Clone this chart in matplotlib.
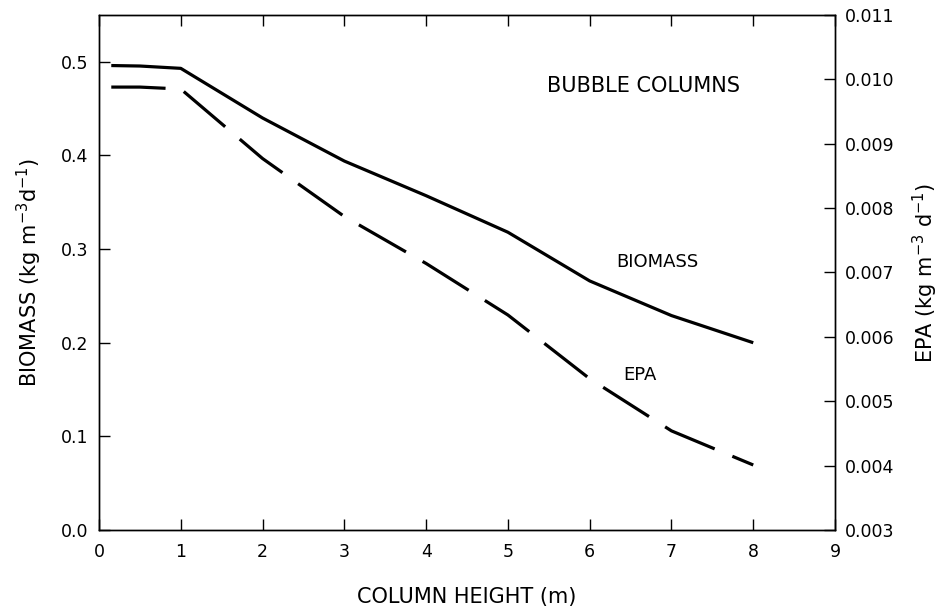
import matplotlib
matplotlib.use('Agg')
import matplotlib.pyplot as plt

plt.rcParams['font.family'] = ['DejaVu Sans']

# column height (m)
height = [0.15, 0.5, 1, 2, 3, 4, 5, 6, 7, 8]
# biomass productivity (kg m-3 d-1), left axis
biomass = [0.496, 0.4955, 0.493, 0.440, 0.394, 0.357, 0.318, 0.266, 0.229, 0.200]
# EPA productivity (kg m-3 d-1), right axis
epa = [0.00988, 0.00988, 0.00985, 0.00877, 0.00787, 0.00714, 0.00634, 0.00535, 0.00454, 0.00401]

xticks = [0, 1, 2, 3, 4, 5, 6, 7, 8, 9]
left_ticks = [0.0, 0.1, 0.2, 0.3, 0.4, 0.5]
right_ticks = [0.003, 0.004, 0.005, 0.006, 0.007, 0.008, 0.009, 0.010, 0.011]

fig = plt.figure(figsize=(9.43, 6.09), dpi=100)
ax = fig.add_axes([0.105, 0.1297, 0.7805, 0.8457])
ax2 = ax.twinx()

ax.plot(height, biomass, color='black', lw=2.3, solid_capstyle='butt')
ax2.plot(height, epa, color='black', lw=2.3, dashes=(17, 6), dash_capstyle='butt')

ax.set_xlim(0, 9)
ax.set_ylim(0, 0.55)
ax2.set_ylim(0.003, 0.011)

ax.set_xticks(xticks)
ax.set_yticks(left_ticks)
ax.set_yticklabels([f'{v:.1f}' for v in left_ticks])
ax2.set_yticks(right_ticks)
ax2.set_yticklabels([f'{v:.3f}' for v in right_ticks])

ax.tick_params(axis='x', direction='in', length=8, width=1, top=True, labelsize=12.5, pad=9)
ax.tick_params(axis='y', direction='in', length=8, width=1, labelsize=12.5, pad=8)
ax2.tick_params(axis='y', direction='in', length=8, width=1, labelsize=12.5, pad=7)

for a in (ax, ax2):
    for s in a.spines.values():
        s.set_linewidth(1.0)

ax.set_xlabel('COLUMN HEIGHT (m)', fontsize=15, labelpad=19)
ax.set_ylabel('BIOMASS (kg m$^{-3}$d$^{-1}$)', fontsize=15, labelpad=12)
ax2.set_ylabel('EPA (kg m$^{-3}$ d$^{-1}$)', fontsize=15, rotation=90, labelpad=12)

ax.text(5.48, 0.474, 'BUBBLE COLUMNS', fontsize=15, va='center', ha='left')
ax.text(6.33, 0.286, 'BIOMASS', fontsize=13, va='center', ha='left')
ax.text(6.41, 0.166, 'EPA', fontsize=13, va='center', ha='left')

fig.savefig('out.png', dpi=100)
